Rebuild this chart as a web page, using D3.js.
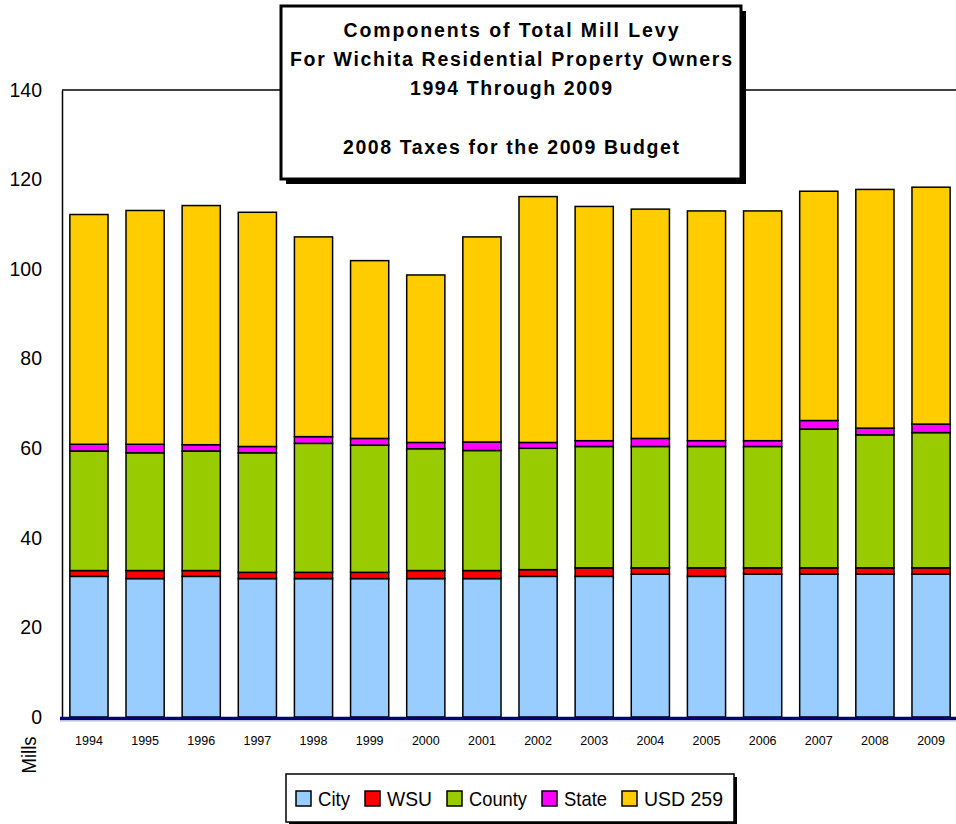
<!DOCTYPE html>
<html>
<head>
<meta charset="utf-8">
<script src="https://cdn.jsdelivr.net/npm/d3@7"></script>
<style>
  html, body { margin: 0; padding: 0; background: #fff; }
  svg { display: block; font-family: "Liberation Sans", Arial, sans-serif; }
</style>
</head>
<body>
<svg id="chart" width="956" height="824"></svg>
<script>
// Mill levy components by year (mills)
const years = ["1994","1995","1996","1997","1998","1999","2000","2001",
               "2002","2003","2004","2005","2006","2007","2008","2009"];
const city   = [31.4,30.9,31.4,30.9,30.9,30.9,30.9,30.9,31.4,31.4,31.9,31.4,31.9,31.9,31.9,31.9];
const wsu    = [1.3,1.8,1.3,1.4,1.4,1.4,1.8,1.8,1.5,1.9,1.4,1.9,1.4,1.4,1.4,1.4];
const county = [26.7,26.3,26.7,26.7,28.8,28.4,27.2,26.8,27.1,27.1,27.1,27.1,27.1,31.0,29.7,30.2];
const state  = [1.5,1.9,1.4,1.4,1.5,1.5,1.4,1.9,1.3,1.3,1.8,1.3,1.3,1.9,1.5,1.9];
const usd259 = [51.3,52.2,53.4,52.3,44.6,39.7,37.4,45.8,54.9,52.3,51.2,51.3,51.3,51.2,53.3,52.9];

const seriesNames  = ["City", "WSU", "County", "State", "USD 259"];
const seriesValues = [city, wsu, county, state, usd259];
const seriesColors = ["#99ccff", "#ff0000", "#99cc00", "#ff00ff", "#ffcc00"];
const yTicks = [0, 20, 40, 60, 80, 100, 120, 140];

const titleLines = [
  "Components of Total Mill Levy",
  "For Wichita Residential Property Owners",
  "1994 Through 2009",
  "",
  "2008 Taxes for the 2009 Budget"
];

const svg = d3.select("#chart");

const plot = { left: 62, right: 958, top: 90, bottom: 717 };

const rows = years.map((yr, i) => {
  const r = { year: yr };
  seriesNames.forEach((n, k) => { r[n] = seriesValues[k][i]; });
  return r;
});
const stacked = d3.stack().keys(seriesNames)(rows);

const x = d3.scaleBand()
  .domain(years)
  .range([plot.left, plot.right])
  .paddingInner(0.32)
  .paddingOuter(0.14);

const y = d3.scaleLinear().domain([0, 140]).range([plot.bottom, plot.top]);

// top border of the plot area
svg.append("line")
  .attr("x1", plot.left).attr("x2", plot.right)
  .attr("y1", plot.top).attr("y2", plot.top)
  .attr("stroke", "#000").attr("stroke-width", 1.5);

// stacked bars
const color = d3.scaleOrdinal().domain(seriesNames).range(seriesColors);
svg.append("g")
  .selectAll("g")
  .data(stacked)
  .join("g")
  .attr("fill", d => color(d.key))
  .selectAll("rect")
  .data(d => d)
  .join("rect")
  .attr("x", d => x(d.data.year))
  .attr("width", x.bandwidth())
  .attr("y", d => y(d[1]))
  .attr("height", d => y(d[0]) - y(d[1]))
  .attr("stroke", "#000")
  .attr("stroke-width", 1.5);

// y axis
const yAxis = svg.append("g")
  .attr("transform", `translate(${plot.left},0)`)
  .call(d3.axisLeft(y).tickValues(yTicks).tickSize(0).tickSizeOuter(0).tickPadding(20));
yAxis.select(".domain").attr("stroke", "#000").attr("stroke-width", 1.5);
yAxis.selectAll("text")
  .attr("font-size", 19.5)
  .attr("font-family", "Liberation Sans, Arial, sans-serif")
  .attr("fill", "#000");

// x axis
const xAxis = svg.append("g")
  .attr("transform", `translate(0,${plot.bottom})`)
  .call(d3.axisBottom(x).tickSize(0).tickSizeOuter(0).tickPadding(19));
xAxis.select(".domain").remove();
xAxis.selectAll("text")
  .attr("font-size", 12.5)
  .attr("font-family", "Liberation Sans, Arial, sans-serif")
  .attr("fill", "#000");

// baseline
svg.append("line")
  .attr("x1", plot.left - 2).attr("x2", plot.right)
  .attr("y1", plot.bottom + 1.5).attr("y2", plot.bottom + 1.5)
  .attr("stroke", "#000080").attr("stroke-width", 3.5);
svg.append("line")
  .attr("x1", plot.left - 2).attr("x2", plot.right)
  .attr("y1", plot.bottom + 4).attr("y2", plot.bottom + 4)
  .attr("stroke", "#b8b8dc").attr("stroke-width", 1);

// axis title
svg.append("text")
  .attr("transform", "translate(36,755) rotate(-90)")
  .attr("text-anchor", "middle")
  .attr("font-size", 20)
  .attr("textLength", 37)
  .attr("lengthAdjust", "spacingAndGlyphs")
  .text("Mills");

// title box with drop shadow
const tb = { x: 281, y: 6, w: 460, h: 173 };
svg.append("rect")
  .attr("x", tb.x + 5).attr("y", tb.y + 5)
  .attr("width", tb.w).attr("height", tb.h)
  .attr("fill", "#000");
svg.append("rect")
  .attr("x", tb.x).attr("y", tb.y)
  .attr("width", tb.w).attr("height", tb.h)
  .attr("fill", "#fff").attr("stroke", "#000").attr("stroke-width", 3);

const titleWidths = [335, 442, 202, 0, 336];
svg.append("g")
  .selectAll("text")
  .data(titleLines.map((t, i) => ({ t, i })).filter(d => d.t.length > 0))
  .join("text")
  .attr("x", tb.x + tb.w / 2)
  .attr("y", d => 37 + d.i * 29.2)
  .attr("textLength", d => titleWidths[d.i])
  .attr("text-anchor", "middle")
  .attr("font-size", 19.5)
  .attr("font-weight", "bold")
  .attr("lengthAdjust", "spacing")
  .text(d => d.t);

// legend
const lg = { x: 286, y: 774, w: 448, h: 48 };
svg.append("rect")
  .attr("x", lg.x + 3).attr("y", lg.y + 3)
  .attr("width", lg.w).attr("height", lg.h)
  .attr("fill", "#000");
svg.append("rect")
  .attr("x", lg.x).attr("y", lg.y)
  .attr("width", lg.w).attr("height", lg.h)
  .attr("fill", "#fff").attr("stroke", "#000").attr("stroke-width", 1.5);

const legendTextWidths = [32, 45, 58, 43, 79];
let lx = 296;
seriesNames.forEach((name, k) => {
  svg.append("rect")
    .attr("x", lx).attr("y", 791)
    .attr("width", 15).attr("height", 15)
    .attr("fill", seriesColors[k])
    .attr("stroke", "#000").attr("stroke-width", 1.5);
  svg.append("text")
    .attr("x", lx + 22).attr("y", 806)
    .attr("font-size", 21)
    .attr("textLength", legendTextWidths[k])
    .attr("lengthAdjust", "spacingAndGlyphs")
    .text(name);
  lx += 22 + legendTextWidths[k] + 15;
});
</script>
</body>
</html>
